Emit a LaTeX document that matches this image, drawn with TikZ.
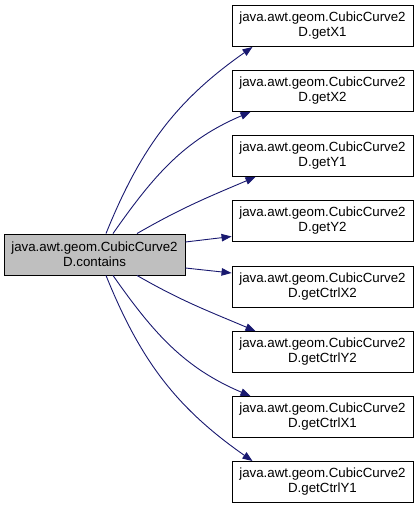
\documentclass[tikz,border=0pt]{standalone}
\usepackage{fontspec}
\setmainfont{Liberation Sans}
\usetikzlibrary{arrows.meta}
\definecolor{edgeblue}{HTML}{191970}
\definecolor{curgray}{HTML}{BFBFBF}

\begin{document}
\begin{tikzpicture}[x=1pt, y=1pt,
    v/.style={draw, rectangle, line width=0.9pt, minimum width=181pt, minimum height=41pt,
        inner sep=0pt, align=center, font=\fontsize{13.3}{15}\selectfont},
    cur/.style={v, fill=curgray},
    e/.style={draw=edgeblue, line width=0.9pt, -{Triangle[length=10pt,width=7.5pt]}}
]

    \useasboundingbox (0,0) rectangle (419,-509);

    % calling function
    \node[cur] (c) at (94.5,-254.5) {java.awt.geom.CubicCurve2\\D.contains};

    % called functions
    \node[v] (f1) at (322.5,-26)  {java.awt.geom.CubicCurve2\\D.getX1};
    \node[v] (f2) at (322.5,-91)  {java.awt.geom.CubicCurve2\\D.getX2};
    \node[v] (f3) at (322.5,-156) {java.awt.geom.CubicCurve2\\D.getY1};
    \node[v] (f4) at (322.5,-221) {java.awt.geom.CubicCurve2\\D.getY2};
    \node[v] (f5) at (322.5,-287) {java.awt.geom.CubicCurve2\\D.getCtrlX2};
    \node[v] (f6) at (322.5,-352) {java.awt.geom.CubicCurve2\\D.getCtrlY2};
    \node[v] (f7) at (322.5,-417) {java.awt.geom.CubicCurve2\\D.getCtrlX1};
    \node[v] (f8) at (322.5,-482) {java.awt.geom.CubicCurve2\\D.getCtrlY1};

    % upper calls
    \draw[e] ([xshift=11.5pt]c.north) to[out=68, in=215] ([xshift=-70pt]f1.south);
    \draw[e] ([xshift=18.5pt]c.north) to[out=55, in=203] ([xshift=-72pt]f2.south);
    \draw[e] ([xshift=42.5pt]c.north) to[out=30, in=203] ([xshift=-67pt]f3.south);
    \draw[e] ([yshift=12.5pt]c.east) -- ([yshift=-15.5pt]f4.west);

    % lower calls
    \draw[e] ([yshift=-13.5pt]c.east) -- ([yshift=14pt]f5.west);
    \draw[e] ([xshift=42.5pt]c.south) to[out=-30, in=157] ([xshift=-67pt]f6.north);
    \draw[e] ([xshift=18.5pt]c.south) to[out=-55, in=157] ([xshift=-72pt]f7.north);
    \draw[e] ([xshift=11.5pt]c.south) to[out=-68, in=145] ([xshift=-70pt]f8.north);

\end{tikzpicture}
\end{document}
